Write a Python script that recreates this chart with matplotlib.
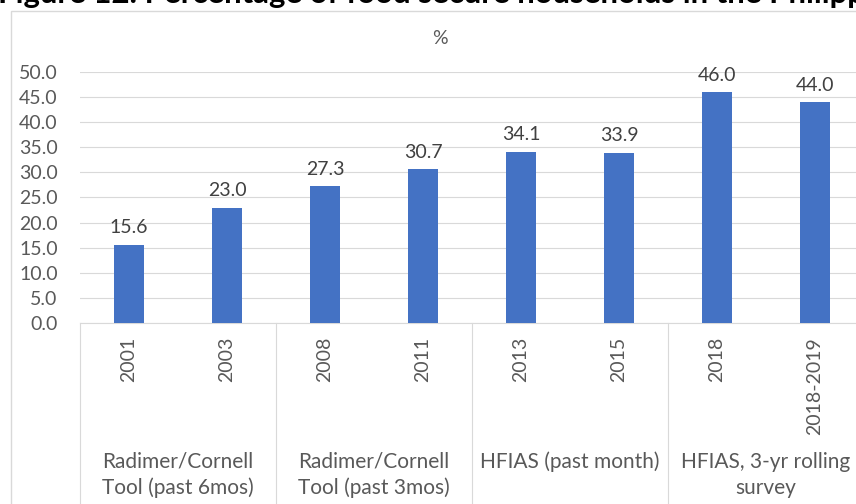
import matplotlib
matplotlib.use("Agg")
import matplotlib.pyplot as plt
from matplotlib.patches import Rectangle
from matplotlib.transforms import blended_transform_factory

years = ["2001", "2003", "2008", "2011", "2013", "2015", "2018", "2018-2019"]
values = [15.6, 23.0, 27.3, 30.7, 34.1, 33.9, 46.0, 44.0]
groups = [["Radimer/Cornell", "Tool (past 6mos)"],
          ["Radimer/Cornell", "Tool (past 3mos)"],
          ["HFIAS (past month)", ""],
          ["HFIAS, 3-yr rolling", "survey"]]
yticks = [0, 5, 10, 15, 20, 25, 30, 35, 40, 45, 50]

plt.rcParams['font.family'] = ['Lato', 'DejaVu Sans']
W, H = 856, 504
fig = plt.figure(figsize=(W / 100, H / 100), dpi=100)

# chart border (runs past the right/bottom edge)
fig.patches.append(Rectangle((11 / W, -0.2), 2, 1.2 - 10.7 / H,
                             transform=fig.transFigure, fill=False,
                             edgecolor="#D9D9D9", lw=1))

ax = fig.add_axes([80 / W, (H - 323) / H, 784 / W, 251 / H])
x = list(range(len(years)))
bars = ax.bar(x, values, width=0.306, color="#4472C4", zorder=3)
ax.bar_label(bars, labels=[f"{v:.1f}" for v in values], padding=6,
             fontsize=14, color="#404040")

ax.set_xlim(-0.5, len(years) - 0.5)
ax.set_ylim(0, 50)
ax.set_yticks(yticks)
ax.set_yticklabels([f"{v:.1f}" for v in yticks], fontsize=14, color="#595959")
ax.set_xticks(x)
ax.set_xticklabels(years, rotation=90, fontsize=14, color="#595959")
ax.tick_params(axis="y", length=0, pad=16)
ax.tick_params(axis="x", length=0, pad=10)
ax.grid(axis="y", color="#D9D9D9", lw=0.8, zorder=0)
for s in ["top", "right", "left"]:
    ax.spines[s].set_visible(False)
ax.spines["bottom"].set_color("#D9D9D9")
ax.spines["bottom"].set_linewidth(0.8)

# two-level category axis
tr = blended_transform_factory(ax.transData, fig.transFigure)
for b in [-0.5, 1.5, 3.5, 5.5, 7.5]:
    ax.plot([b, b], [0, (H - 323) / H], transform=tr, color="#D9D9D9",
            lw=0.8, clip_on=False)
for i, (l1, l2) in enumerate(groups):
    cx = 2 * i + 0.5
    ax.text(cx, 1 - 468 / H, l1, transform=tr, ha="center", va="baseline",
            fontsize=15, color="#595959")
    ax.text(cx, 1 - 493.5 / H, l2, transform=tr, ha="center", va="baseline",
            fontsize=15, color="#595959")

fig.text(440 / W, 1 - 38 / H, "%", ha="center", va="center", fontsize=14,
         color="#595959")
fig.text(-0.002, 1 - 3 / H,
         "Figure 12. Percentage of food secure households in the Philippines",
         ha="left", va="baseline", fontsize=22.4, fontweight="bold", color="black")

fig.savefig("out.png", dpi=100)
